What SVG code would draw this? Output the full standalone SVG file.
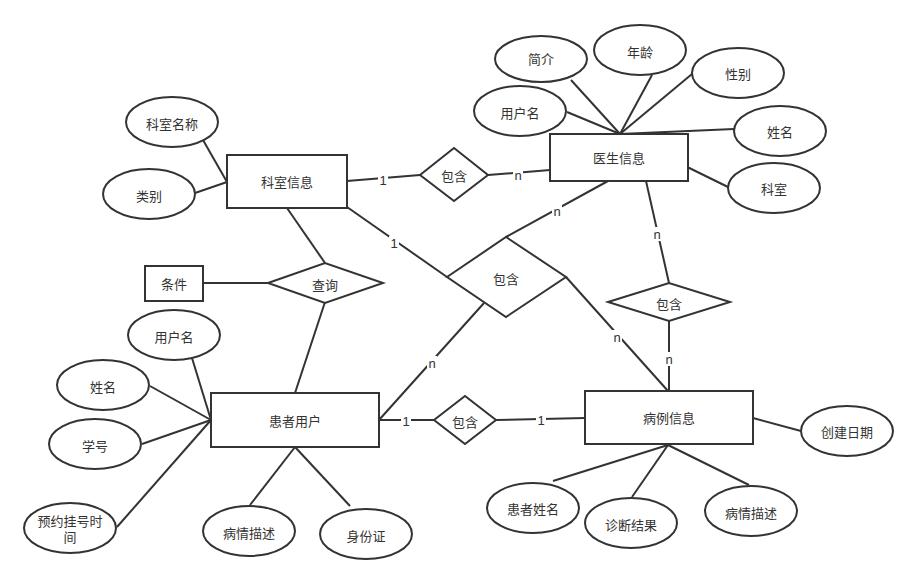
<svg xmlns="http://www.w3.org/2000/svg" width="917" height="584" viewBox="0 0 917 584">
<style>
.s{fill:#fff;stroke:#333;stroke-width:2}
.c line{stroke:#333;stroke-width:2}
.c rect{fill:#fff}
text{font-family:"Liberation Sans","Noto Sans CJK SC",sans-serif;font-size:13px;fill:#333;text-anchor:middle;dominant-baseline:central}
.l{font-size:13px;text-rendering:geometricPrecision}
</style>
<rect width="917" height="584" fill="#fff"/>
<g class="c" id="connectors">
<line x1="620" y1="134" x2="571" y2="80"/>
<line x1="620" y1="134" x2="652" y2="75"/>
<line x1="620" y1="134" x2="692" y2="74"/>
<line x1="620" y1="134" x2="567" y2="112"/>
<line x1="620" y1="134" x2="734" y2="129"/>
<line x1="620" y1="134" x2="728" y2="187"/>
<line x1="203" y1="140" x2="227" y2="182"/>
<line x1="195" y1="193" x2="227" y2="182"/>
<line x1="347" y1="181" x2="420" y2="175"/>
<line x1="488" y1="175" x2="550" y2="170"/>
<line x1="347" y1="207" x2="447" y2="277"/>
<line x1="506" y1="237" x2="608" y2="181"/>
<line x1="484" y1="303" x2="379" y2="420"/>
<line x1="566" y1="277" x2="668" y2="391"/>
<line x1="646" y1="181" x2="669" y2="283"/>
<line x1="669" y1="321" x2="669" y2="391"/>
<line x1="203" y1="283" x2="268" y2="283"/>
<line x1="287" y1="208" x2="325" y2="263"/>
<line x1="295" y1="393" x2="325" y2="302"/>
<line x1="379" y1="420" x2="434" y2="420"/>
<line x1="496" y1="420" x2="585" y2="418"/>
<line x1="192" y1="358" x2="211" y2="420"/>
<line x1="150" y1="386" x2="211" y2="420"/>
<line x1="142" y1="444" x2="211" y2="420"/>
<line x1="117" y1="527" x2="211" y2="420"/>
<line x1="295" y1="447" x2="250" y2="505"/>
<line x1="295" y1="447" x2="350" y2="506"/>
<line x1="753" y1="418" x2="801" y2="431"/>
<line x1="668" y1="445" x2="553" y2="481"/>
<line x1="668" y1="445" x2="632" y2="497"/>
<line x1="668" y1="445" x2="749" y2="485"/>
<rect x="378" y="173" width="10" height="14"/><text class="l" x="383" y="180">1</text>
<rect x="513" y="168" width="10" height="14"/><text class="l" x="518" y="175">n</text>
<rect x="389" y="236" width="10" height="14"/><text class="l" x="394" y="243">1</text>
<rect x="552" y="204" width="10" height="14"/><text class="l" x="557" y="211">n</text>
<rect x="427" y="356" width="10" height="14"/><text class="l" x="432" y="363">n</text>
<rect x="612" y="330" width="10" height="14"/><text class="l" x="617" y="337">n</text>
<rect x="652" y="227" width="10" height="14"/><text class="l" x="657" y="234">n</text>
<rect x="664" y="352" width="10" height="14"/><text class="l" x="669" y="359">n</text>
<rect x="401" y="414" width="10" height="14"/><text class="l" x="406" y="421">1</text>
<rect x="536" y="413" width="10" height="14"/><text class="l" x="541" y="420">1</text>
</g>
<g id="doctor"><rect class="s" x="550" y="134" width="138" height="47"/><text x="619" y="158">医生信息</text></g>
<g id="dept"><rect class="s" x="227" y="155" width="120" height="53"/><text x="287" y="182">科室信息</text></g>
<g id="patient"><rect class="s" x="211" y="393" width="168" height="54"/><text x="295" y="421">患者用户</text></g>
<g id="case"><rect class="s" x="585" y="391" width="168" height="53"/><text x="669" y="418">病例信息</text></g>
<g id="cond"><rect class="s" x="145" y="266" width="58" height="35"/><text x="174" y="284">条件</text></g>
<g id="r1"><polygon class="s" points="420,175 454,148 488,175 454,201"/><text x="454" y="176">包含</text></g>
<g id="r2"><polygon class="s" points="447,277 506,237 566,277 506,317"/><text x="506" y="279">包含</text></g>
<g id="r3"><polygon class="s" points="608,302 669,283 730,302 669,321"/><text x="669" y="304">包含</text></g>
<g id="r4"><polygon class="s" points="434,420 465,396 496,420 465,444"/><text x="465" y="422">包含</text></g>
<g id="query"><polygon class="s" points="268,283 325,263 383,283 325,303"/><text x="325" y="285">查询</text></g>
<g id="a1"><ellipse class="s" cx="541" cy="59" rx="46" ry="23"/><text x="541" y="59">简介</text></g>
<g id="a2"><ellipse class="s" cx="640" cy="50" rx="46" ry="25"/><text x="640" y="52">年龄</text></g>
<g id="a3"><ellipse class="s" cx="738" cy="73" rx="46" ry="25"/><text x="738" y="74">性别</text></g>
<g id="a4"><ellipse class="s" cx="520" cy="111" rx="46" ry="25"/><text x="520" y="113">用户名</text></g>
<g id="a5"><ellipse class="s" cx="780" cy="131" rx="46" ry="25"/><text x="780" y="132">姓名</text></g>
<g id="a6"><ellipse class="s" cx="774" cy="188" rx="46" ry="25"/><text x="774" y="189">科室</text></g>
<g id="a7"><ellipse class="s" cx="172" cy="122" rx="46" ry="25"/><text x="172" y="124">科室名称</text></g>
<g id="a8"><ellipse class="s" cx="149" cy="194" rx="46" ry="25"/><text x="149" y="196">类别</text></g>
<g id="a9"><ellipse class="s" cx="174" cy="335" rx="46" ry="25"/><text x="174" y="337">用户名</text></g>
<g id="a10"><ellipse class="s" cx="103" cy="385" rx="46" ry="25"/><text x="103" y="387">姓名</text></g>
<g id="a11"><ellipse class="s" cx="95" cy="444" rx="46" ry="25"/><text x="95" y="446">学号</text></g>
<g id="a12"><ellipse class="s" cx="70" cy="528" rx="46" ry="25"/><text x="70" y="521">预约挂号时</text><text x="70" y="537">间</text></g>
<g id="a13"><ellipse class="s" cx="249" cy="531" rx="46" ry="25"/><text x="249" y="533">病情描述</text></g>
<g id="a14"><ellipse class="s" cx="366" cy="534" rx="46" ry="25"/><text x="366" y="536">身份证</text></g>
<g id="a15"><ellipse class="s" cx="847" cy="431" rx="46" ry="25"/><text x="847" y="432">创建日期</text></g>
<g id="a16"><ellipse class="s" cx="533" cy="508" rx="46" ry="25"/><text x="533" y="509">患者姓名</text></g>
<g id="a17"><ellipse class="s" cx="631" cy="523" rx="46" ry="25"/><text x="631" y="525">诊断结果</text></g>
<g id="a18"><ellipse class="s" cx="751" cy="511" rx="46" ry="25"/><text x="751" y="513">病情描述</text></g>
</svg>
